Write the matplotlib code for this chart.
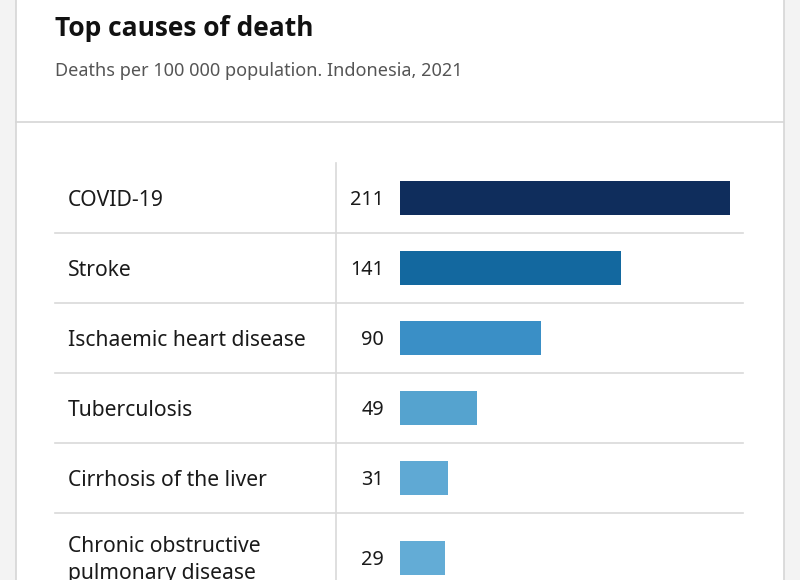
import matplotlib.pyplot as plt
from matplotlib.patches import Rectangle

plt.rcParams['font.family'] = ['Noto Sans', 'DejaVu Sans']

# data
causes = ["COVID-19", "Stroke", "Ischaemic heart disease", "Tuberculosis",
          "Cirrhosis of the liver", "Chronic obstructive\npulmonary disease"]
deaths = [211, 141, 90, 49, 31, 29]
bar_colors = ["#0f2d5c", "#13689f", "#3a8fc6", "#55a3cf", "#5fa9d4", "#63acd6"]

title = "Top causes of death"
subtitle = "Deaths per 100 000 population. Indonesia, 2021"

W, H = 800, 580
fig = plt.figure(figsize=(W / 100, H / 100), dpi=100)
fig.patch.set_facecolor("#f3f3f3")

# background axes in pixel units
bg = fig.add_axes([0, 0, 1, 1])
bg.set_xlim(0, W)
bg.set_ylim(H, 0)
bg.axis("off")

# white card
bg.add_patch(Rectangle((15.5, -5), 768, H + 10, facecolor="white",
                       edgecolor="#d6d6d6", linewidth=1.2))

bg.text(55, 28, title, fontsize=19, fontweight="bold", color="#111111",
        va="center", ha="left", family=["Open Sans", "Noto Sans", "DejaVu Sans"])
bg.text(55, 71, subtitle, fontsize=13, color="#555555", va="center", ha="left")
bg.plot([16, 783], [122, 122], color="#d6d6d6", lw=1.2)

# table rows
row_top = 163
row_h = [70, 70, 70, 70, 70, 90]
centers = []
y = row_top
for i, h in enumerate(row_h):
    centers.append(y + h / 2)
    y += h
    if i < len(row_h) - 1:
        bg.plot([55, 743], [y, y], color="#d9d9d9", lw=1.2)
bg.plot([336, 336], [row_top, H], color="#d9d9d9", lw=1.2)

for c, v, yc in zip(causes, deaths, centers):
    bg.text(68, yc + 2, c, fontsize=15.2, color="#1a1a1a", va="center", ha="left",
            linespacing=1.35)
    bg.text(384, yc + 2, str(v), fontsize=14.3, color="#1a1a1a", va="center", ha="right")

# bars
ax = fig.add_axes([400 / W, 0, 330 / W, 1])
ax.set_xlim(0, max(deaths))
ax.set_ylim(H, 0)
ax.axis("off")
ax.patch.set_alpha(0)
ax.barh(centers, deaths, height=34, color=bar_colors, left=0)

plt.savefig("out.png", dpi=100, facecolor=fig.get_facecolor())
